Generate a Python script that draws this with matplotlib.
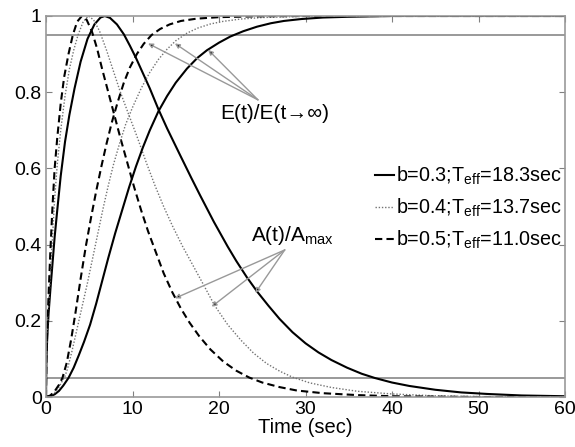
import numpy as np
import matplotlib
matplotlib.use('Agg')
import matplotlib.pyplot as plt

plt.rcParams['font.family'] = ['Liberation Sans', 'DejaVu Sans']
plt.rcParams['mathtext.fontset'] = 'custom'
plt.rcParams['mathtext.rm'] = 'Liberation Sans'
plt.rcParams['mathtext.it'] = 'Liberation Sans:italic'

# A(t)/Amax
t_a3 = [0, 0.05, 0.15, 0.3, 0.5, 0.75, 1.0, 1.3, 1.7, 2.2, 2.7, 3.3, 4.0, 4.8, 5.6, 6.3, 6.8,
        7.4, 8.2, 9.0, 9.7, 10.4, 11.2, 12.0, 13.0, 14.0, 15.5, 16.8, 17.8, 19.4, 21.0, 22.0,
        23.2, 24.4, 25.7, 27.0, 28.5, 30.0, 31.5, 33.0, 34.8, 36.5, 38.0, 40.0, 42.0, 45.0,
        48.0, 51.0, 55.0, 60]
a3 = [0, 0.1, 0.16, 0.22, 0.28, 0.35, 0.42, 0.49, 0.58, 0.67, 0.74, 0.81, 0.88, 0.94, 0.978,
      0.996, 1.0, 0.995, 0.978, 0.952, 0.922, 0.89, 0.85, 0.81, 0.755, 0.705, 0.635, 0.575,
      0.53, 0.46, 0.395, 0.357, 0.315, 0.277, 0.24, 0.205, 0.17, 0.141, 0.117, 0.097, 0.077,
      0.061, 0.05, 0.038, 0.029, 0.019, 0.012, 0.008, 0.004, 0.002]

t_a4 = [0, 0.05, 0.15, 0.3, 0.5, 0.75, 1.0, 1.3, 1.7, 2.2, 2.7, 3.2, 3.7, 4.3, 4.9, 5.5, 6.2,
        7.0, 7.8, 8.6, 9.5, 10.5, 11.6, 12.6, 13.6, 14.6, 15.8, 17.0, 18.2, 19.5, 21.0, 22.5,
        24.0, 25.5, 27.0, 28.5, 30.5, 33.0, 36.0, 40.0, 45.0, 50.0, 60]
a4 = [0, 0.1, 0.17, 0.24, 0.32, 0.42, 0.52, 0.61, 0.7, 0.79, 0.86, 0.91, 0.95, 0.985, 1.0,
      0.99, 0.96, 0.91, 0.855, 0.8, 0.745, 0.685, 0.615, 0.555, 0.5, 0.45, 0.395, 0.345,
      0.295, 0.24, 0.19, 0.15, 0.115, 0.088, 0.068, 0.052, 0.037, 0.025, 0.015, 0.008, 0.003,
      0.001, 0.0]

t_a5 = [0, 0.05, 0.15, 0.3, 0.5, 0.75, 1.0, 1.3, 1.7, 2.1, 2.6, 3.1, 3.6, 4.15, 4.7, 5.3, 5.9,
        6.5, 7.2, 7.9, 8.6, 9.4, 10.2, 11.0, 11.8, 12.7, 13.6, 14.6, 15.6, 16.6, 17.7, 19.0,
        20.5, 22.0, 23.5, 25.0, 27.0, 29.0, 32.0, 36.0, 40.0, 45.0, 50, 60]
a5 = [0, 0.1, 0.18, 0.27, 0.38, 0.5, 0.6, 0.68, 0.77, 0.84, 0.9, 0.95, 0.985, 1.0, 0.99, 0.96,
      0.915, 0.86, 0.8, 0.74, 0.68, 0.615, 0.55, 0.49, 0.435, 0.38, 0.325, 0.275, 0.232,
      0.195, 0.16, 0.125, 0.093, 0.069, 0.051, 0.038, 0.026, 0.017, 0.01, 0.005, 0.002,
      0.001, 0, 0]

# E(t)/E(t->inf)
t_e3 = [0, 0.5, 1.0, 1.5, 2.0, 2.6, 3.2, 3.8, 4.4, 5.1, 5.8, 6.5, 7.2, 8.0, 8.8, 9.6, 10.4,
        11.2, 12.0, 13.0, 14.0, 15.0, 16.3, 17.5, 18.6, 20.0, 21.3, 22.8, 24.4, 26, 27.5,
        29.5, 32, 35, 40, 50, 60]
e3 = [0, 0.002, 0.007, 0.016, 0.03, 0.05, 0.077, 0.11, 0.145, 0.19, 0.245, 0.305, 0.365,
      0.43, 0.49, 0.55, 0.605, 0.655, 0.70, 0.75, 0.79, 0.825, 0.862, 0.89, 0.91, 0.93,
      0.946, 0.96, 0.972, 0.981, 0.987, 0.992, 0.996, 0.998, 1.0, 1.0, 1.0]

t_e4 = [0, 0.5, 1.0, 1.5, 2.2, 2.5, 3.0, 3.6, 4.2, 4.8, 5.1, 5.4, 6.0, 6.6, 7.2, 7.8, 8.5,
        9.2, 10.0, 11.0, 12.0, 13.0, 14.0, 15.0, 16.3, 17.5, 19.0, 20.5, 22.5, 25, 28, 32,
        45, 60]
e4 = [0, 0.003, 0.011, 0.026, 0.055, 0.075, 0.12, 0.18, 0.24, 0.3, 0.333, 0.365, 0.43, 0.495,
      0.555, 0.61, 0.665, 0.715, 0.76, 0.81, 0.852, 0.886, 0.913, 0.935, 0.955, 0.968, 0.979,
      0.986, 0.992, 0.996, 0.998, 1.0, 1.0, 1.0]

t_e5 = [0, 0.5, 1.0, 1.5, 1.9, 2.4, 2.9, 3.4, 4.0, 4.6, 5.2, 5.8, 6.4, 7.0, 7.6, 8.3, 9.0,
        9.7, 10.5, 11.3, 12.2, 13.2, 14.3, 15.6, 17.4, 20, 24, 30, 60]
e5 = [0, 0.004, 0.015, 0.032, 0.05, 0.09, 0.15, 0.22, 0.31, 0.395, 0.47, 0.54, 0.605, 0.665,
      0.72, 0.775, 0.825, 0.865, 0.9, 0.927, 0.95, 0.966, 0.978, 0.987, 0.993, 0.997, 0.999,
      1.0, 1.0]

labels = [r'b=0.3;T$_{\rm eff}$=18.3sec', r'b=0.4;T$_{\rm eff}$=13.7sec',
          r'b=0.5;T$_{\rm eff}$=11.0sec']
ref_levels = [0.05, 0.95]

fig = plt.figure(figsize=(5.75, 4.47), dpi=100)
ax = fig.add_axes([46/575, 50/447, 519/575, 381/447])

for y in ref_levels:
    ax.axhline(y, color='0.6', lw=1.4, zorder=1)

solid = dict(color='k', lw=1.5, ls='-')
dotted = dict(color='0.45', lw=1.0, ls=(0, (1, 1.3)))
dashed = dict(color='k', lw=1.5, ls=(0, (3.5, 2)))

h1, = ax.plot(t_a3, a3, **solid)
h2, = ax.plot(t_a4, a4, **dotted)
h3, = ax.plot(t_a5, a5, **dashed)
ax.plot(t_e3, e3, **solid)
ax.plot(t_e4, e4, **dotted)
ax.plot(t_e5, e5, **dashed)

# gray pointer lines with small black heads
arrow = dict(arrowstyle='-|>', ec='0.6', fc='k', lw=1.0, mutation_scale=7, shrinkA=0, shrinkB=0)
for tgt in [(11.8, 0.928), (14.9, 0.928), (18.75, 0.911)]:
    ax.annotate('', xy=tgt, xytext=(24.5, 0.78), arrowprops=arrow)
for tgt in [(14.9, 0.259), (19.15, 0.237), (24.2, 0.273)]:
    ax.annotate('', xy=tgt, xytext=(27.6, 0.386), arrowprops=arrow)

ax.text(26.5, 0.745, 'E(t)/E(t\u2192\u221e)', fontsize=15, ha='center', va='center')
ax.text(23.7, 0.425, r'A(t)/A$_{\rm max}$', fontsize=15, ha='left', va='center')

leg = ax.legend([h1, h2, h3], labels, loc='upper left', bbox_to_anchor=(0.633, 0.61),
                frameon=False, fontsize=14.2, handlelength=1.0, handletextpad=0.1,
                labelspacing=0.5, borderpad=0, borderaxespad=0)

ax.set_xlim(0, 60)
ax.set_ylim(0, 1)
ax.set_xticks([0, 10, 20, 30, 40, 50, 60])
ax.set_yticks([0, 0.2, 0.4, 0.6, 0.8, 1])
ax.set_yticklabels(['0', '0.2', '0.4', '0.6', '0.8', '1'])
ax.tick_params(direction='in', top=True, right=True, length=4, color='0.5',
               labelsize=14, pad=3)
for s in ax.spines.values():
    s.set_color('0.6')
    s.set_linewidth(1.2)
ax.set_xlabel('Time (sec)', fontsize=14.5, labelpad=0)

fig.savefig('out.png', dpi=100)
